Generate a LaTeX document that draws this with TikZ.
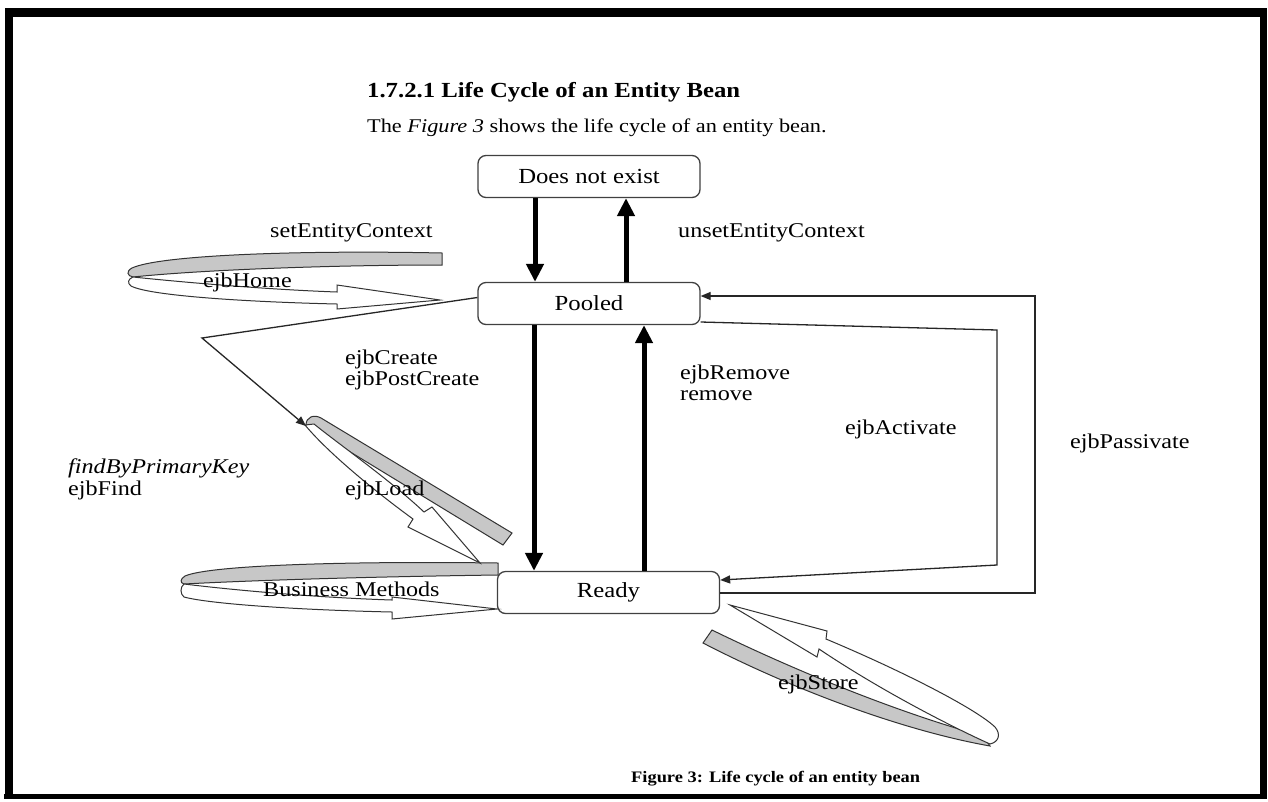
\documentclass[tikz,border=0pt]{standalone}
\usepackage{fontspec}
\setmainfont{Liberation Serif}[FakeStretch=1.15]
\usetikzlibrary{arrows.meta}
\begin{document}
\begin{tikzpicture}[x=1pt,y=-1pt,
  state/.style={draw=black!75, line width=1.3pt, rounded corners=8pt, minimum width=222pt, minimum height=42pt, inner sep=0pt, fill=white, font=\fontsize{21.5}{26}\selectfont},
  lbl/.style={anchor=base west, inner sep=0pt, font=\fontsize{21}{25}\selectfont},
  bigarrow/.style={line width=5pt, -{Triangle[width=17pt,length=18pt]}},
  thinarrow/.style={line width=1.3pt, draw=black!85, -{Triangle[width=8pt,length=10pt]}},
  ribgray/.style={draw=black!80, line width=1pt, fill=black!22},
  ribwhite/.style={draw=black!80, line width=1pt, fill=white}]
\useasboundingbox (0,0) rectangle (1268,801);
\fill[white] (0,0) rectangle (1268,801);
% frame
\fill[black] (6,8) rectangle (1266,17);
\fill[black] (5,8) rectangle (13,799);
\fill[black] (1260,8) rectangle (1267,799);
\fill[black] (4,794) rectangle (1267,799);

% title texts
\node[anchor=base west, inner sep=0pt, font=\fontsize{21.5}{26}\selectfont\bfseries] (title) at (367,97) {1.7.2.1 Life Cycle of an Entity Bean};
\node[anchor=base west, inner sep=0pt, font=\fontsize{19.4}{24}\selectfont] (sub) at (367,132) {The \textit{Figure 3} shows the life cycle of an entity bean.};

% states
\node[state] (dne) at (589,176.5) {Does not exist};
\node[state] (pooled) at (589,303.5) {Pooled};
\node[state] (ready) at (608.5,592.5) {Ready};

% thick arrows
\coordinate (c1) at (535,0);
\coordinate (c2) at (626,0);
\coordinate (c3) at (534,0);
\coordinate (c4) at (644,0);
\draw[bigarrow] (c1 |- dne.south) -- (c1 |- pooled.north);
\draw[bigarrow] (c2 |- pooled.north) -- (c2 |- dne.south);
\draw[bigarrow] (c3 |- pooled.south) -- (c3 |- ready.north);
\draw[bigarrow] (c4 |- ready.north) -- (c4 |- pooled.south);

% right loops
\coordinate (p1) at (1035,593);
\coordinate (p2) at (1035,296);
\draw[thinarrow] ([yshift=-0.5pt]ready.east) -- (p1) -- (p2) -- ([yshift=7.5pt]pooled.east);
\coordinate (a1) at (997,330);
\coordinate (a2) at (997,565);
\draw[thinarrow] ([yshift=-18.5pt]pooled.east) -- (a1) -- (a2) -- ([yshift=12.5pt]ready.east);

% ribbon A: ejbHome
\path[ribgray] (442,253) .. controls (300,250) and (160,255) .. (132,268) .. controls (126,271) and (127,276) .. (133,277) .. controls (200,270) and (330,265) .. (442,265) -- cycle;
\path[ribwhite] (133,277) .. controls (200,284) and (280,290) .. (337,292) -- (337,285) -- (440,300) -- (337,309) -- (337,304) .. controls (250,302) and (150,296) .. (131,286) .. controls (127,283) and (128,279) .. (133,277) -- cycle;

% ribbon B: Business Methods
\path[ribgray] (498,563) .. controls (350,561) and (210,565) .. (185,576) .. controls (180,579) and (180,583) .. (184,584) .. controls (240,581) and (350,577) .. (498,575) -- cycle;
\path[ribwhite] (184,584) .. controls (250,592) and (330,598) .. (392,600) -- (392,597) -- (497,609) -- (392,619) -- (392,612) .. controls (300,610) and (210,604) .. (184,597) .. controls (180,594) and (180,587) .. (184,584) -- cycle;

% ribbon C: ejbLoad
\path[ribgray] (306,425) .. controls (306,417) and (314,414) .. (321,418) -- (512,533) -- (503,545) -- cycle;
\path[ribwhite] (305,425) .. controls (330,455) and (380,495) .. (413,519) -- (408,527) -- (480,563) -- (432,507) -- (424,512) .. controls (390,480) and (340,445) .. (314,424) -- cycle;

% ribbon D: ejbStore
\path[ribgray] (712,630) .. controls (800,673) and (900,713) .. (983,736) -- (990,746) .. controls (900,730) and (790,688) .. (703,643) -- cycle;
\path[ribwhite] (730,605) -- (827,631) -- (826,639) .. controls (900,670) and (975,708) .. (995,727) .. controls (1001,734) and (999,742) .. (990,744) .. controls (950,726) and (880,690) .. (819,649) -- (817,657) -- cycle;

% left line
\coordinate (f1) at (202,338);
\coordinate (f2) at (306,426);
\draw[thinarrow] ([yshift=6pt]pooled.west) -- (f1) -- (f2);

% labels
\node[lbl] (l1) at (270,237) {setEntityContext};
\node[lbl] (l2) at (678,237) {unsetEntityContext};
\node[lbl] (l3) at (203,287) {ejbHome};
\node[lbl] (l4) at (345,364) {ejbCreate};
\node[lbl] (l5) at (345,385) {ejbPostCreate};
\node[lbl] (l6) at (680,379) {ejbRemove};
\node[lbl] (l7) at (680,400) {remove};
\node[lbl] (l8) at (845,434) {ejbActivate};
\node[lbl] (l9) at (1070,448) {ejbPassivate};
\node[lbl] (l10) at (68,473) {\textit{findByPrimaryKey}};
\node[lbl] (l11) at (68,495) {ejbFind};
\node[lbl] (l12) at (345,495) {ejbLoad};
\node[lbl] (l13) at (263,596) {Business Methods};
\node[lbl] (l14) at (778,689) {ejbStore};
\node[anchor=base west, inner sep=0pt, font=\fontsize{16}{20}\selectfont\bfseries] (cap) at (631,782) {Figure 3: Life cycle of an entity bean};
\end{tikzpicture}
\end{document}
